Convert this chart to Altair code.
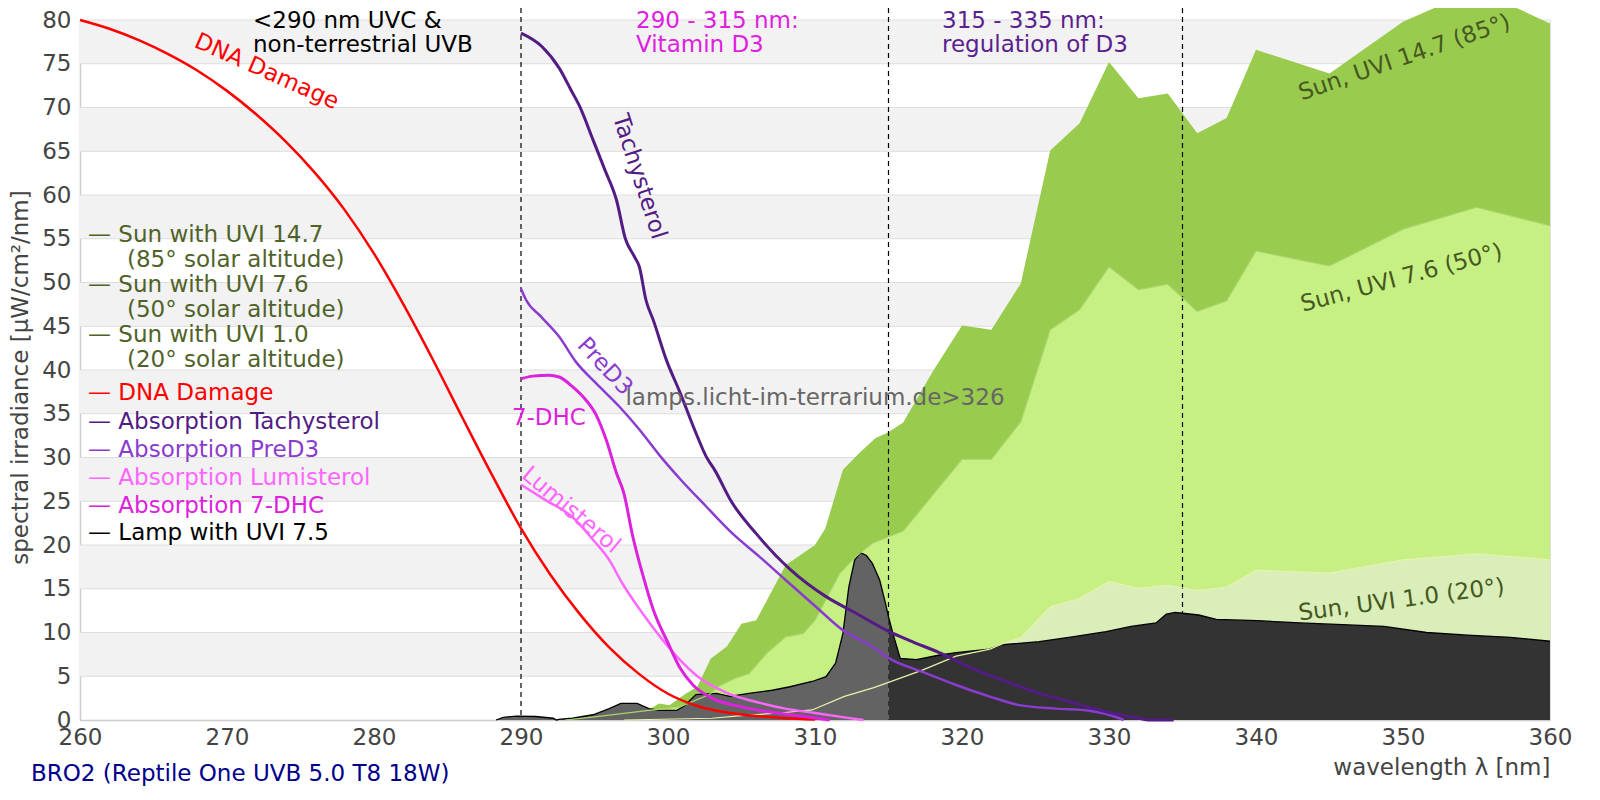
import altair as alt
import pandas as pd

# ------------------------------------------------------------------ data
# Sun spectra (area), wavelength [nm] -> irradiance [µW/cm²/nm]
sun147_nm = [296.5, 298.8, 299.4, 300.1, 301.2, 302.0, 302.9, 304.0, 305.0, 306.0, 308.0, 310.0,
             310.7, 311.9, 313.0, 314.1, 315.0, 316.0, 318.0, 320.0, 322.0, 324.0, 326.0, 328.0,
             330.0, 332.0, 334.0, 336.0, 338.0, 340.0, 345.0, 350.0, 355.0, 360.0]
sun147_val = [0.0, 1.3, 1.9, 1.7, 3.0, 3.8, 7.0, 8.4, 11.0, 11.4, 17.7, 20.0,
              21.9, 28.6, 30.5, 32.2, 32.9, 34.0, 39.8, 45.1, 44.6, 49.9, 65.1, 68.2,
              75.2, 71.05, 71.6, 67.05, 68.8, 76.6, 73.9, 79.8, 83.5, 79.6]

sun76_nm = [293.0, 295.0, 297.0, 298.7, 300.8, 302.8, 303.5, 304.6, 305.5, 306.7, 308.0, 309.2,
            310.0, 311.7, 312.8, 313.9, 316.0, 318.0, 320.0, 322.0, 324.0, 326.0, 328.0, 330.0,
            332.0, 334.0, 336.0, 338.0, 340.0, 345.0, 350.0, 355.0, 360.0]
sun76_val = [0.0, 0.35, 0.76, 1.1, 1.5, 2.9, 3.9, 4.8, 5.3, 7.6, 9.5, 9.9,
             11.4, 16.8, 18.7, 20.2, 21.6, 25.7, 29.8, 29.8, 34.1, 44.6, 46.9, 51.8,
             49.2, 49.8, 46.7, 47.9, 53.6, 51.9, 56.1, 58.6, 56.5]

sun10_nm = [297.0, 303.0, 305.0, 307.6, 309.8, 312.0, 314.0, 315.0, 317.3, 319.6, 321.9, 322.9,
            324.0, 326.0, 328.0, 330.0, 332.0, 334.0, 336.0, 338.0, 340.0, 345.0, 350.0, 355.0, 360.0]
sun10_val = [0.0, 0.2, 0.5, 0.8, 1.15, 2.7, 3.7, 4.3, 5.7, 7.3, 8.1, 8.8,
             9.4, 12.9, 13.9, 15.8, 15.05, 15.4, 14.8, 15.2, 17.1, 16.8, 18.3, 19.0, 18.3]

# Lamp spectrum (BRO2)
lamp_nm = [288.3, 288.8, 289.7, 291.0, 292.2, 292.4, 292.7, 293.5, 294.9, 296.0, 296.8, 297.9,
           298.7, 299.4, 300.6, 301.1, 301.9, 303.3, 304.2, 305.5, 307.1, 308.3, 309.8, 310.75,
           311.4, 311.9, 312.3, 312.7, 313.1, 313.5, 313.9, 314.4, 314.8, 315.0, 315.3, 315.8,
           316.9, 318.4, 319.6, 321.85, 322.75, 325.25, 327.5, 329.8, 331.5, 333.2, 333.9, 334.5,
           335.0, 336.1, 337.3, 340.1, 343.0, 345.9, 348.7, 351.6, 354.4, 357.3, 360.0]
lamp_val = [0.0, 0.3, 0.45, 0.4, 0.2, 0.0, 0.1, 0.2, 0.6, 1.3, 1.9, 1.9,
            1.3, 1.1, 1.1, 1.6, 2.9, 3.05, 2.7, 3.05, 3.4, 3.8, 4.4, 4.95,
            6.5, 9.9, 15.2, 18.3, 19.1, 18.8, 17.9, 16.0, 13.3, 11.8, 9.9, 7.05,
            6.9, 7.4, 7.7, 8.1, 8.6, 8.95, 9.5, 10.1, 10.7, 11.1, 12.1, 12.3,
            12.2, 12.0, 11.5, 11.35, 11.1, 10.9, 10.7, 10.0, 9.7, 9.45, 9.0]

# Action / absorption spectra (scaled)
dna_nm = [260, 262, 264, 266, 268, 270, 272, 274, 276, 278, 280, 282, 284, 286, 288, 290,
          292, 294, 296, 298, 300, 302, 304, 306, 308, 310]
dna_val = [80.0, 79.0, 77.7, 76.1, 74.2, 71.9, 69.2, 66.1, 62.5, 58.3, 53.3, 47.5, 41.2, 34.6,
           28.1, 21.9, 16.6, 12.1, 8.3, 5.3, 3.0, 1.6, 0.85, 0.45, 0.2, 0.05]

tachy_nm = [290.0, 291.4, 292.6, 293.4, 294.0, 294.9, 295.7, 296.5, 297.1, 297.7, 298.05, 298.5,
            299.0, 299.9, 300.8, 301.9, 302.6, 303.2, 304.3, 306.0, 308.25, 310.75, 312.8, 315.05,
            316.4, 318.45, 320.7, 323.0, 325.25, 327.5, 329.8, 332.05, 332.7, 334.4]
tachy_val = [78.5, 77.0, 74.5, 72.0, 70.1, 66.3, 62.9, 59.4, 55.0, 53.0, 51.8, 48.0,
             45.7, 41.1, 37.5, 32.8, 30.1, 28.5, 25.0, 21.3, 17.3, 14.1, 12.2, 10.1,
             9.1, 7.7, 5.9, 4.4, 3.05, 2.0, 0.95, 0.19, 0.0, 0.0]

pred3_nm = [290.0, 290.35, 291.36, 292.6, 293.75, 295.1, 296.7, 298.05, 299.4, 300.9, 302.6,
            304.4, 306.2, 308.0, 310.06, 311.87, 313.9, 315.05, 317.3, 319.6, 321.85, 323.9,
            326.4, 328.65, 330.7, 331.0]
pred3_val = [49.3, 48.0, 46.1, 43.8, 40.9, 38.5, 35.8, 33.2, 30.3, 27.4, 24.4,
             21.3, 18.7, 16.0, 12.95, 10.3, 8.4, 7.05, 5.5, 4.0, 2.7, 1.7,
             1.3, 1.06, 0.2, 0.0]

lumi_nm = [290.0, 291.7, 293.5, 294.9, 296.0, 296.9, 297.8, 298.7, 299.9, 300.8, 302.0, 304.0,
           306.4, 308.0, 310.0, 312.0, 313.3]
lumi_val = [26.9, 25.1, 23.2, 20.6, 18.3, 15.6, 13.3, 11.2, 8.6, 6.9, 5.0, 3.1,
            1.9, 1.3, 0.8, 0.3, 0.0]

dhc_nm = [290.0, 290.8, 291.9, 292.6, 293.5, 294.4, 295.1, 295.8, 296.5, 297.0, 297.6, 298.3,
          299.0, 300.0, 300.8, 301.7, 303.0, 305.0, 307.6, 309.5, 311.0]
dhc_val = [39.0, 39.3, 39.4, 39.2, 38.1, 36.6, 34.9, 32.0, 28.2, 25.9, 21.0, 16.5,
           12.6, 8.8, 6.0, 4.0, 2.5, 1.5, 0.76, 0.35, 0.0]

region_nm = [290, 315, 335]
y_ticks = list(range(0, 81, 5))
x_ticks = list(range(260, 361, 10))
band_lo = [5, 15, 25, 35, 45, 55, 65, 75]
band_hi = [10, 20, 30, 40, 50, 60, 70, 80]

# ------------------------------------------------------------------ layout
W, H = 1470, 700
FONT = "DejaVu Sans"
FS = 23

xs = alt.Scale(domain=[260, 360], nice=False)
ys = alt.Scale(domain=[0, 80], nice=False)

x_axis = alt.Axis(title="wavelength λ [nm]", values=x_ticks, grid=False, ticks=False, tickSize=0,
                  labelFont=FONT, labelFontSize=FS, labelColor="#444444", labelPadding=6,
                  labelFlush=False, labelOverlap=False,
                  titleFont=FONT, titleFontSize=FS, titleColor="#444444", titleFontWeight="normal",
                  titleAnchor="end", titleAlign="right", titleX=W, titleY=47, titleBaseline="middle",
                  domainColor="#cccccc", domainWidth=1.5, format="d")
y_axis = alt.Axis(title="spectral irradiance [µW/cm²/nm]", values=y_ticks, grid=False, ticks=False,
                  tickSize=0, labelFont=FONT, labelFontSize=FS, labelColor="#444444", labelPadding=9,
                  labelFlush=False, labelOverlap=False,
                  titleFont=FONT, titleFontSize=FS, titleColor="#444444", titleFontWeight="normal",
                  titleX=-60, titleY=357, titleBaseline="middle", titleAngle=270,
                  domainColor="#cccccc", domainWidth=1.5, format="d")


def X(f="nm"):
    return alt.X(f, type="quantitative", scale=xs, axis=x_axis)


def Y(f="v"):
    return alt.Y(f, type="quantitative", scale=ys, axis=y_axis)


def df(nm, val):
    return pd.DataFrame({"nm": nm, "v": val})


one = pd.DataFrame({"a": [0]})

bands = alt.Chart(pd.DataFrame({"lo": band_lo, "hi": band_hi})).mark_rect(
    color="#f2f2f2").encode(x=alt.value(0), x2=alt.value(W), y=Y("lo"), y2="hi")
grid = alt.Chart(pd.DataFrame({"v": y_ticks[1:]})).mark_rule(
    color="#dddddd", strokeWidth=1.2).encode(x=alt.value(0), x2=alt.value(W), y=Y())

sun147 = alt.Chart(df(sun147_nm, sun147_val)).mark_area(color="#99cb4e", opacity=1).encode(x=X(), y=Y())
sun76 = alt.Chart(df(sun76_nm, sun76_val)).mark_area(color="#c6f083", opacity=1).encode(x=X(), y=Y())
sun10 = alt.Chart(df(sun10_nm, sun10_val)).mark_area(color="#d9eeb8", opacity=1).encode(x=X(), y=Y())

dashed = alt.Chart(pd.DataFrame({"nm": region_nm})).mark_rule(
    color="black", strokeWidth=1.2, strokeDash=[5, 4]).encode(x=X(), y=alt.value(-12), y2=alt.value(H))

lampA_nm = [n for n in lamp_nm if n <= 315]
lampA_val = [v for n, v in zip(lamp_nm, lamp_val) if n <= 315]
lampB_nm = [n for n in lamp_nm if n >= 315]
lampB_val = [v for n, v in zip(lamp_nm, lamp_val) if n >= 315]
lampA = alt.Chart(df(lampA_nm, lampA_val)).mark_area(color="#636363", opacity=1).encode(x=X(), y=Y())
lampB = alt.Chart(df(lampB_nm, lampB_val)).mark_area(color="#333333", opacity=1).encode(x=X(), y=Y())
lampL = alt.Chart(df(lamp_nm, lamp_val)).mark_line(color="black", strokeWidth=1.3).encode(x=X(), y=Y())

sun76L = alt.Chart(df(sun76_nm, sun76_val)).mark_line(color="#a9d46a", strokeWidth=1.2).encode(x=X(), y=Y())
sun10L = alt.Chart(df(sun10_nm, sun10_val)).mark_line(color="#e6f2ad", strokeWidth=1.2).encode(x=X(), y=Y())

C_DNA, C_TA, C_PRE, C_LUM, C_DHC = "#ff0000", "#521c84", "#8a3ccf", "#ff66ff", "#dd22dd"
C_SUN, C_SUNLBL = "#4f6228", "#46581f"


def line(nm, val, color, w):
    return alt.Chart(df(nm, val)).mark_line(color=color, strokeWidth=w,
                                            interpolate="monotone").encode(x=X(), y=Y())


dna = line(dna_nm, dna_val, C_DNA, 2.5)
tachy = line(tachy_nm, tachy_val, C_TA, 3)
pred3 = line(pred3_nm, pred3_val, C_PRE, 2.5)
lumi = line(lumi_nm, lumi_val, C_LUM, 2.5)
dhc = line(dhc_nm, dhc_val, C_DHC, 3)


def ptext(txt, x, y, color, size=FS, align="left", angle=0):
    return alt.Chart(one).mark_text(text=txt, font=FONT, fontSize=size, color=color, align=align,
                                    baseline="middle", angle=angle).encode(x=alt.value(x), y=alt.value(y))


def dtext(txt, nm, v, color, angle=0, size=FS):
    return alt.Chart(df([nm], [v])).mark_text(text=txt, font=FONT, fontSize=size, color=color,
                                               align="center", baseline="middle",
                                               angle=angle).encode(x=X(), y=Y())


texts = [
    # region headers
    ptext("<290 nm UVC &", 173, 1, "black"),
    ptext("non-terrestrial UVB", 173, 25, "black"),
    ptext("290 - 315 nm:", 556, 1, "#e020e0"),
    ptext("Vitamin D3", 556, 25, "#e020e0"),
    ptext("315 - 335 nm:", 862, 1, "#5b1f8f"),
    ptext("regulation of D3", 862, 25, "#5b1f8f"),
    # legend
    ptext("— Sun with UVI 14.7", 8, 215, C_SUN),
    ptext("(85° solar altitude)", 47, 240, C_SUN),
    ptext("— Sun with UVI 7.6", 8, 265, C_SUN),
    ptext("(50° solar altitude)", 47, 290, C_SUN),
    ptext("— Sun with UVI 1.0", 8, 315, C_SUN),
    ptext("(20° solar altitude)", 47, 340, C_SUN),
    ptext("— DNA Damage", 8, 373, C_DNA),
    ptext("— Absorption Tachysterol", 8, 402, C_TA),
    ptext("— Absorption PreD3", 8, 430, C_PRE),
    ptext("— Absorption Lumisterol", 8, 458, C_LUM),
    ptext("— Absorption 7-DHC", 8, 486, C_DHC),
    ptext("— Lamp with UVI 7.5", 8, 513, "black"),
    # curve labels
    dtext("DNA Damage", 272.7, 74.1, C_DNA, 24),
    dtext("Tachysterol", 298.05, 62.1, C_TA, 72),
    dtext("PreD3", 295.7, 40.4, C_PRE, 47),
    dtext("7-DHC", 291.9, 34.5, C_DHC, 0),
    dtext("Lumisterol", 293.4, 24.0, C_LUM, 40),
    dtext("Sun, UVI 14.7 (85°)", 350.1, 75.7, C_SUNLBL, 341),
    dtext("Sun, UVI 7.6 (50°)", 349.9, 50.5, C_SUNLBL, 345),
    dtext("Sun, UVI 1.0 (20°)", 349.9, 13.7, C_SUNLBL, 352.5),
    dtext("lamps.licht-im-terrarium.de>326", 310.0, 36.8, "#666666", 0),
    # lamp name
    ptext("BRO2 (Reptile One UVB 5.0 T8 18W)", -49, 754, "#00008b"),
]

chart = alt.layer(
    bands, grid, sun147, sun76, sun10, dashed, lampA, lampB, lampL, sun76L, sun10L,
    dna, lumi, dhc, pred3, tachy, *texts
).properties(
    width=W, height=H,
    autosize=alt.AutoSizeParams(type="none"),
    padding={"left": 72, "top": 12, "right": 40, "bottom": 68},
).configure_view(stroke="transparent").configure(background="white")

chart.save("out.html", embed_options={"renderer": "svg", "actions": False})
